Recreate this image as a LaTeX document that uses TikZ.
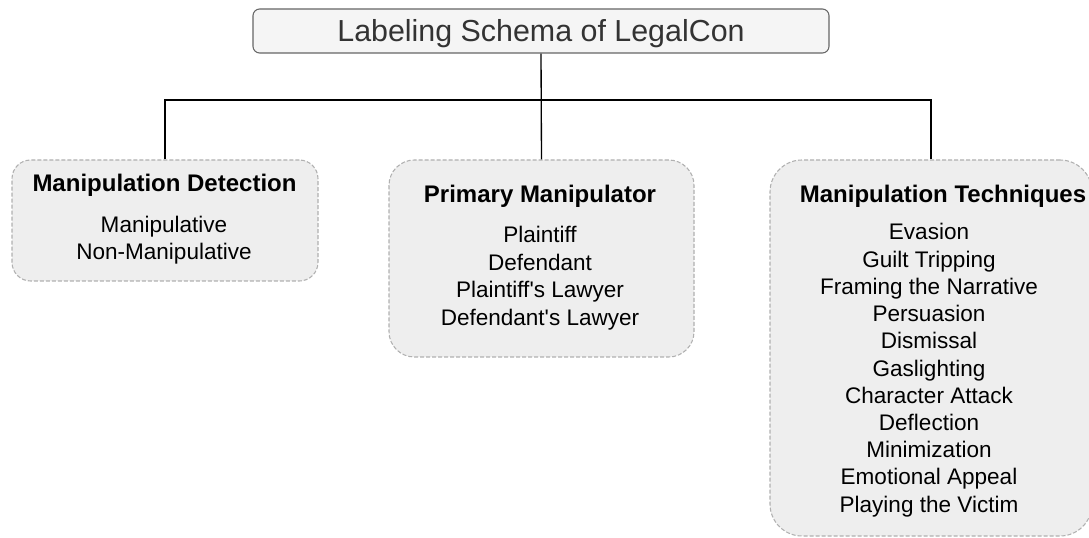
\documentclass[tikz,border=0pt]{standalone}
\usepackage{fontspec}
\setmainfont{Liberation Sans}
\definecolor{boxfill}{HTML}{EEEEEE}
\definecolor{titlefill}{HTML}{F5F5F5}
\definecolor{dashgray}{HTML}{B0B0B0}
\definecolor{textgray}{HTML}{333333}

\begin{document}
\begin{tikzpicture}[x=0.75pt, y=-0.75pt,
  catbox/.style={draw=dashgray, fill=boxfill, line width=0.8pt, dash pattern=on 3pt off 1.5pt, inner sep=0pt},
  heading/.style={anchor=base, font=\fontsize{18}{21}\selectfont\bfseries},
  entry/.style={anchor=base, font=\fontsize{16.9}{20}\selectfont}]
  \useasboundingbox (0,0) rectangle (1089,538);
  % draw title box
  \node[draw=black!60, fill=titlefill, rounded corners=5pt, line width=0.8pt,
        minimum width=432pt, minimum height=33pt, text height=16.5pt, text depth=0pt,
        text=textgray, font=\fontsize{22.8}{27}\selectfont] (schema) at (541,31) {Labeling Schema of LegalCon};
  % draw dashed category boxes
  \node[catbox, rounded corners=14pt, minimum width=229.5pt, minimum height=90.75pt] (detection) at (165,220.5) {};
  \node[catbox, rounded corners=19pt, minimum width=228.75pt, minimum height=147.75pt] (manipulator) at (541.5,258.5) {};
  \node[catbox, rounded corners=24pt, minimum width=241.5pt, minimum height=282pt] (techniques) at (931,348) {};
  % draw tree connectors
  \coordinate (bus_detection) at (165,100);
  \coordinate (bus_techniques) at (931,100);
  \draw[black, line width=1pt] (schema.south) -- (manipulator.north);
  \draw[black, line width=1pt] (detection.north) -- (bus_detection) -- (bus_techniques) -- (techniques.north);
  % draw headings
  \node[heading] (detection_head) at (164.5,191.5) {Manipulation Detection};
  \node[heading] (manipulator_head) at (540,203) {Primary Manipulator};
  \node[heading] (techniques_head) at (943,203) {Manipulation Techniques};
  % draw entries for each category
  \foreach \lbl [count=\k] in {Manipulative, Non-Manipulative}
    \node[entry] (detection_\k) at (164,{233+27*(\k-1)}) {\lbl};
  \foreach \lbl [count=\k] in {Plaintiff, Defendant, Plaintiff\textquotesingle s Lawyer, Defendant\textquotesingle s Lawyer}
    \node[entry] (manipulator_\k) at (540,{243+27.5*(\k-1)}) {\lbl};
  \foreach \lbl [count=\k] in {Evasion, Guilt Tripping, Framing the Narrative, Persuasion, Dismissal, Gaslighting, Character Attack, Deflection, Minimization, Emotional Appeal, Playing the Victim}
    \node[entry] (techniques_\k) at (929,{240+27.2*(\k-1)}) {\lbl};
\end{tikzpicture}
\end{document}
